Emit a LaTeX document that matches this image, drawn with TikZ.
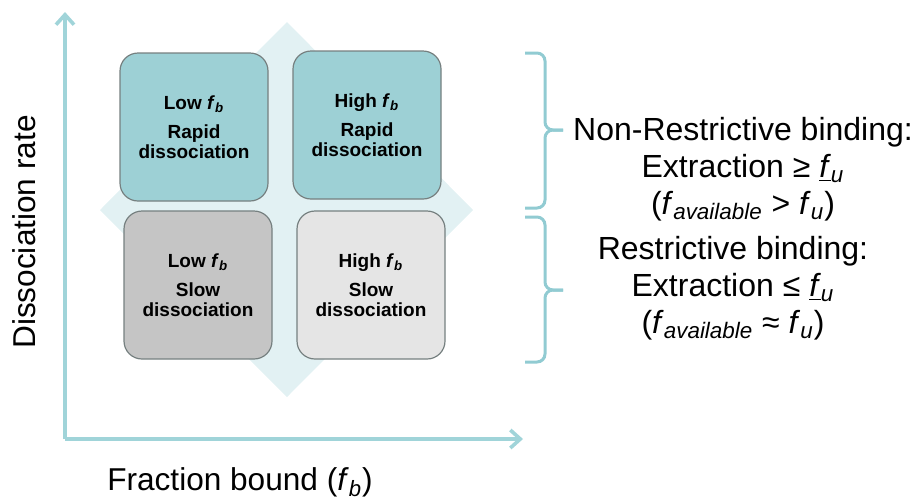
\documentclass[tikz,border=0pt]{standalone}
\usepackage{fontspec}
\setmainfont{Liberation Sans}
\usetikzlibrary{arrows.meta}

\definecolor{tealbox}{RGB}{157,208,213}
\definecolor{darkgraybox}{RGB}{197,197,197}
\definecolor{lightgraybox}{RGB}{229,229,229}
\definecolor{diamondfill}{RGB}{226,241,243}
\definecolor{axisteal}{RGB}{160,212,217}
\definecolor{braceteal}{RGB}{145,203,210}
\definecolor{boxedge}{RGB}{118,128,128}

\begin{document}
\begin{tikzpicture}[x=0.5pt, y=-0.5pt,
    quadbox/.style={draw=boxedge, line width=0.6pt, rounded corners=9pt,
      minimum width=74pt, minimum height=74pt, inner sep=0pt, align=center,
      font=\fontsize{9.5}{10}\selectfont\bfseries},
    axisline/.style={draw=axisteal, line width=1.8pt,
      -{Straight Barb[length=5pt, width=9pt]}},
    bracket/.style={draw=braceteal, line width=1.5pt, rounded corners=4pt},
    labeltext/.style={font=\fontsize{15.8}{18.5}\selectfont},
    bigtext/.style={font=\fontsize{16}{18.5}\selectfont, align=center},
    ]
  \useasboundingbox (0,0) rectangle (915,500);

  % axes
  \coordinate (origin) at (65,439);
  \coordinate (xend) at (523,439);
  \coordinate (yend) at (65,12);
  \draw[axisline] (origin) -- (xend);
  \draw[axisline] (origin) -- (yend);

  \node[labeltext, rotate=90] (ylabel) at (24,232) {Dissociation rate};
  \node[labeltext, anchor=base] (xlabel) at (240,490)
    {Fraction bound (\textit{f}\textsubscript{\textit{b}})};

  % background diamond
  \fill[diamondfill] (287,22) -- (473,210) -- (287,397) -- (100,210) -- cycle;

  % the four quadrants
  \node[quadbox, fill=tealbox] (lowrapid) at (194,127)
    {Low \textit{f}\textsubscript{\textit{b}}\\[4.5pt] Rapid\\ dissociation};
  \node[quadbox, fill=tealbox] (highrapid) at (367,125)
    {High \textit{f}\textsubscript{\textit{b}}\\[4.5pt] Rapid\\ dissociation};
  \node[quadbox, fill=darkgraybox] (lowslow) at (198,285)
    {Low \textit{f}\textsubscript{\textit{b}}\\[4.5pt] Slow\\ dissociation};
  \node[quadbox, fill=lightgraybox] (highslow) at (371,285)
    {High \textit{f}\textsubscript{\textit{b}}\\[4.5pt] Slow\\ dissociation};

  % brackets
  \draw[bracket] (525,53) -- (545,53) -- (545,130) -- (563,130);
  \draw[bracket] (525,208) -- (545,208) -- (545,130) -- (563,130);
  \draw[bracket] (525,217) -- (545,217) -- (545,290) -- (563,290);
  \draw[bracket] (525,362) -- (545,362) -- (545,290) -- (563,290);

  \node[bigtext] (nonrestr) at (743,169)
    {Non-Restrictive binding:\\
     Extraction ≥ \underline{\textit{f}}\textsubscript{\textit{u}}\\
     (\textit{f}\textsubscript{\textit{available}} > \textit{f}\textsubscript{\textit{u}})};
  \node[bigtext] (restr) at (733,288)
    {Restrictive binding:\\
     Extraction ≤ \underline{\textit{f}}\textsubscript{\textit{u}}\\
     (\textit{f}\textsubscript{\textit{available}} ≈ \textit{f}\textsubscript{\textit{u}})};
\end{tikzpicture}
\end{document}
